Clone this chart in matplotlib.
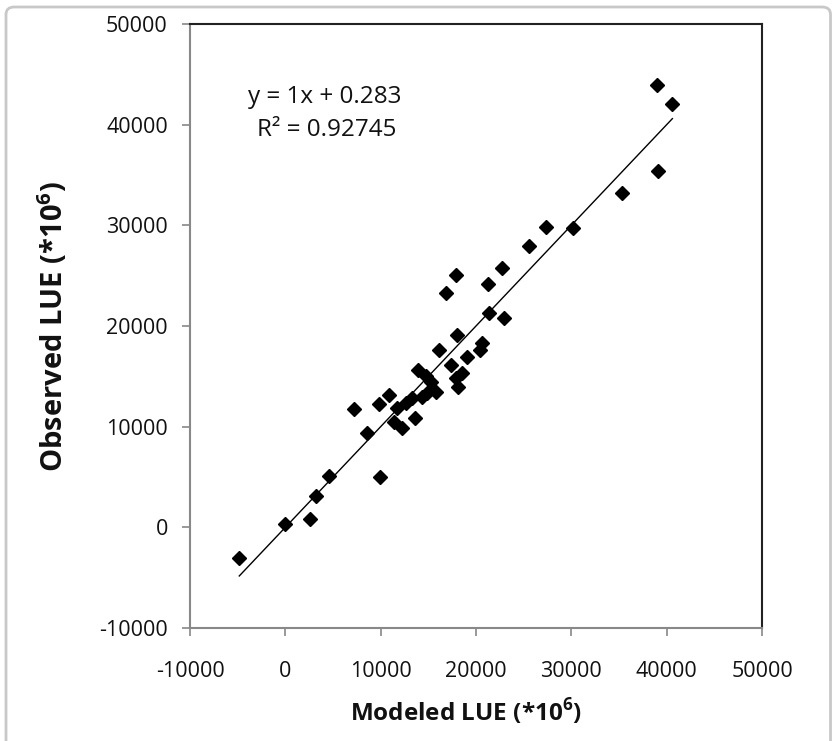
import matplotlib
matplotlib.use("Agg")
import matplotlib.pyplot as plt
from matplotlib.patches import FancyBboxPatch
import numpy as np

plt.rcParams['font.family'] = ['Open Sans', 'DejaVu Sans']
plt.rcParams['axes.unicode_minus'] = False
plt.rcParams['mathtext.fontset'] = 'custom'
plt.rcParams['mathtext.rm'] = 'Open Sans'
plt.rcParams['mathtext.bf'] = 'Open Sans:bold'

modeled = [-4830, 0, 2620, 3250, 4620, 7240, 8600, 9970, 9860, 10900,
           11750, 11440, 12280, 12700, 13330, 13640, 14380, 14900, 13960, 14800,
           15320, 15840, 16160, 16900, 17420, 17940, 17940, 18150, 18570, 18050,
           19100, 20460, 20670, 21300, 21400, 22770, 22900, 25600, 27390, 30220,
           35360, 39030, 39140, 40600]
observed = [-3080, 300, 790, 3080, 5060, 11800, 9330, 4970, 12300, 13100,
            11900, 10430, 9830, 12400, 12800, 10820, 12900, 13300, 15590, 15000,
            14400, 13400, 17580, 23300, 16090, 25100, 14800, 13900, 15290, 19070,
            16880, 17580, 18270, 24200, 21250, 25800, 20750, 27900, 29800, 29700,
            33170, 43900, 35350, 42100]
slope = 1.0
intercept = 0.283
r2 = 0.92745
xticks = [-10000, 0, 10000, 20000, 30000, 40000, 50000]
yticks = [-10000, 0, 10000, 20000, 30000, 40000, 50000]

fig = plt.figure(figsize=(8.33, 7.41), dpi=100)
ax = fig.add_axes([190/833, 1-628/741, (762-190)/833, (628-24)/741])

# outer frame (bottom edge lies outside the picture, as in the reference)
frame = FancyBboxPatch((6/833, -0.05), (833-6)/833 - 0.003, (741-7)/741 + 0.05,
                       boxstyle="round,pad=0,rounding_size=0.01",
                       transform=fig.transFigure, fill=False, edgecolor='#c8c8c8',
                       linewidth=2.0, clip_on=False)
fig.patches.append(frame)

ax.plot(modeled, observed, linestyle='none', marker='D', markersize=7.5, color='black')
xl = np.array([min(modeled), max(modeled)])
ax.plot(xl, slope*xl + intercept, color='black', linewidth=1.0)

ax.set_xlim(-10000, 50000)
ax.set_ylim(-10000, 50000)
ax.set_xticks(xticks)
ax.set_yticks(yticks)
ax.tick_params(axis='both', direction='out', length=6, width=1.2, color='#888888',
               labelsize=15.5, labelcolor='#111111')
ax.tick_params(axis='y', pad=10)
ax.tick_params(axis='x', pad=18)
for s in ['left', 'bottom']:
    ax.spines[s].set_color('#888888')
    ax.spines[s].set_linewidth(1.5)
for s in ['top', 'right']:
    ax.spines[s].set_color('#222222')
    ax.spines[s].set_linewidth(1.5)

fig.text(466/833, 1-712/741, r'Modeled LUE (*10$^{\mathbf{6}}$)', fontsize=17.5, fontweight='bold',
         ha='center', va='center', color='#111111')
fig.text(53/833, 1-327/741, r'Observed LUE (*10$^{\mathbf{6}}$)', fontsize=21, fontweight='bold',
         ha='center', va='center', rotation=90, color='#111111')

fig.text(325/833, 1-97/741, 'y = 1x + 0.283', fontsize=17.5,
         ha='center', va='center', color='#111111')
fig.text(327/833, 1-130/741, 'R² = 0.92745', fontsize=17.5,
         ha='center', va='center', color='#111111')

fig.savefig('out.png', dpi=100)
